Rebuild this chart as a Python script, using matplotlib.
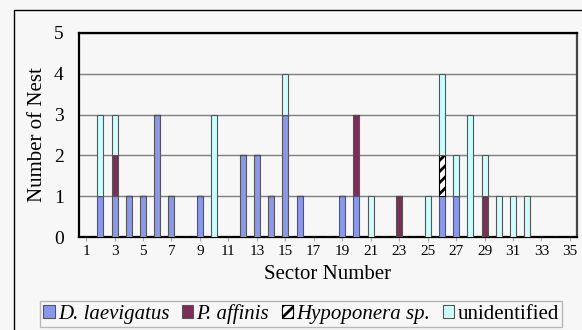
import numpy as np
import matplotlib
matplotlib.use("Agg")
import matplotlib.pyplot as plt
from matplotlib.patches import Rectangle

plt.rcParams['font.family'] = ['Liberation Serif', 'DejaVu Serif']
plt.rcParams['hatch.linewidth'] = 2.0

sectors = list(range(1, 36))
tick_labels = [str(s) for s in range(1, 36, 2)]

# nests per sector, one list per group
d_laevigatus = [0, 1, 1, 1, 1, 3, 1, 0, 1, 0, 0, 2, 2, 1, 3, 1, 0, 0, 1, 1,
                0, 0, 0, 0, 0, 1, 1, 0, 0, 0, 0, 0, 0, 0, 0]
p_affinis = [0, 0, 1, 0, 0, 0, 0, 0, 0, 0, 0, 0, 0, 0, 0, 0, 0, 0, 0, 2,
             0, 0, 1, 0, 0, 0, 0, 0, 1, 0, 0, 0, 0, 0, 0]
hypoponera = [0, 0, 0, 0, 0, 0, 0, 0, 0, 0, 0, 0, 0, 0, 0, 0, 0, 0, 0, 0,
              0, 0, 0, 0, 0, 1, 0, 0, 0, 0, 0, 0, 0, 0, 0]
unidentified = [0, 2, 1, 0, 0, 0, 0, 0, 0, 3, 0, 0, 0, 0, 1, 0, 0, 0, 0, 0,
                1, 0, 0, 0, 1, 2, 1, 3, 1, 1, 1, 1, 0, 0, 0]

series = [
    ("D. laevigatus", d_laevigatus, "#8898ee", None, "#555555"),
    ("P. affinis", p_affinis, "#7e2c58", None, "#555555"),
    ("Hypoponera sp.", hypoponera, "white", "///", "black"),
    ("unidentified", unidentified, "#ccffff", None, "#555555"),
]

W, H = 582, 330
fig = plt.figure(figsize=(W / 100, H / 100), dpi=100)
fig.patch.set_facecolor("#f7f7f7")

# chart frame
fig.patches.append(Rectangle((14 / W, -0.1), 1.0, 1 - 10 / H + 0.1,
                             transform=fig.transFigure, fill=False,
                             edgecolor="black", linewidth=1.0))

ax = fig.add_axes([79 / W, 1 - 237 / H, (577 - 79) / W, (237 - 33) / H])
ax.set_facecolor("#f7f7f7")

x = np.arange(len(sectors))
bottom = np.zeros(len(sectors))
handles = []
for name, vals, color, hatch, edge in series:
    vals = np.array(vals, dtype=float)
    bars = ax.bar(x, vals, 0.42, bottom=bottom, color=color, hatch=hatch,
                  edgecolor=edge, linewidth=0.8, label=name, zorder=3)
    handles.append(bars)
    bottom += vals

ax.set_xlim(-0.5, len(sectors) - 0.5)
ax.set_ylim(0, 5)
ax.set_yticks(range(6))
ax.set_xticks(x[::2])
ax.set_xticklabels(tick_labels)
ax.yaxis.grid(True, color="#808080", linewidth=1.0, zorder=0)
ax.tick_params(axis="y", length=0, labelsize=14, pad=11)
ax.tick_params(axis="x", length=3, color="#aaaaaa", labelsize=11, pad=3)

for side in ["top", "left", "bottom"]:
    ax.spines[side].set_linewidth(1.6)
    ax.spines[side].set_color("black")
ax.spines["right"].set_linewidth(1.6)
ax.spines["right"].set_color("#444444")

ax.set_ylabel("Number of Nest", fontsize=15, labelpad=5)
ax.set_xlabel("Sector Number", fontsize=15, labelpad=5)

leg = fig.legend(handles=handles, loc="center", bbox_to_anchor=(301 / W, 1 - 314 / H),
                 ncol=4, fontsize=15, frameon=True, fancybox=False,
                 handlelength=0.55, handleheight=0.55, handletextpad=0.15,
                 columnspacing=0.6, borderpad=0.15, borderaxespad=0)
leg.get_frame().set_edgecolor("#aaaaaa")
leg.get_frame().set_facecolor("#f7f7f7")
leg.get_frame().set_linewidth(1.0)
for t in leg.get_texts()[:3]:
    t.set_fontstyle("italic")

fig.savefig("out.png", dpi=100, facecolor=fig.get_facecolor())
